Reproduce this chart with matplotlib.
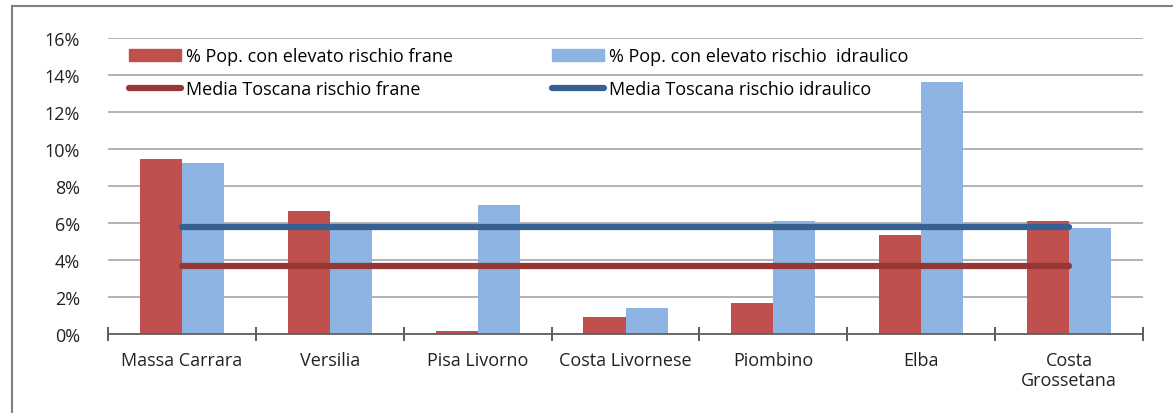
import matplotlib
matplotlib.use("Agg")
import matplotlib.pyplot as plt
import numpy as np
from matplotlib.patches import Patch
from matplotlib.lines import Line2D
from matplotlib.ticker import FuncFormatter, MultipleLocator, FixedLocator

categories = ["Massa Carrara", "Versilia", "Pisa Livorno", "Costa Livornese",
              "Piombino", "Elba", "Costa\nGrossetana"]
frane = [9.45, 6.63, 0.16, 0.94, 1.69, 5.33, 6.10]
idraulico = [9.26, 5.90, 6.95, 1.39, 6.12, 13.6, 5.73]
media_frane = 3.68
media_idraulico = 5.80

lab_frane = "% Pop. con elevato rischio frane"
lab_idr = "% Pop. con elevato rischio  idraulico"
lab_mf = "Media Toscana rischio frane"
lab_mi = "Media Toscana rischio idraulico"

c_red = "#C0504D"
c_blue = "#8EB4E3"
c_lred = "#953735"
c_lblue = "#376092"

FS = 13
plt.rcParams['font.family'] = ['Open Sans', 'DejaVu Sans']
fig = plt.figure(figsize=(11.73, 4.14), dpi=100)
ax = fig.add_axes([108/1173, 1-335/414, (1143-108)/1173, (335-39)/414])

x = np.arange(len(categories))
w = 0.285
ax.bar(x - w/2, frane, width=w, color=c_red, zorder=2)
ax.bar(x + w/2, idraulico, width=w, color=c_blue, zorder=2)
ax.plot([x[0], x[-1]], [media_frane, media_frane], color=c_lred, lw=4.5,
        solid_capstyle='round', zorder=3)
ax.plot([x[0], x[-1]], [media_idraulico, media_idraulico], color=c_lblue, lw=4.5,
        solid_capstyle='round', zorder=3)

ax.set_xlim(-0.5, len(categories) - 0.5)
ax.set_ylim(0, 16)
ax.yaxis.set_major_locator(MultipleLocator(2))
ax.yaxis.set_major_formatter(FuncFormatter(lambda v, p: f"{int(v)}%"))
ax.grid(axis='y', color='#A6A6A6', lw=1.2, zorder=0)
ax.set_axisbelow(True)
for s in ['top', 'right', 'left']:
    ax.spines[s].set_visible(False)
ax.spines['bottom'].set_color('#606060')
ax.spines['bottom'].set_linewidth(1.3)
ax.spines['bottom'].set_zorder(4)

ax.set_xticks(x)
ax.set_xticklabels(categories, fontsize=FS, color='#222222', linespacing=1.15)
ax.tick_params(axis='x', length=0, pad=12)
ax.xaxis.set_minor_locator(FixedLocator(np.arange(-0.5, len(categories), 1.0)))
ax.tick_params(axis='x', which='minor', length=10, direction='inout', color='#404040', width=1.2)
ax.tick_params(axis='y', length=0, pad=20, labelsize=FS, labelcolor='#222222')

handles = [Patch(color=c_red), Line2D([], [], color=c_lred, lw=4.5, solid_capstyle='round'),
           Patch(color=c_blue), Line2D([], [], color=c_lblue, lw=4.5, solid_capstyle='round')]
labels = [lab_frane, lab_mf, lab_idr, lab_mi]
leg = ax.legend(handles, labels, ncol=2, loc='upper left', bbox_to_anchor=(0.008, 1.011),
                frameon=False, fontsize=FS, handlelength=2.9, handletextpad=0.28,
                columnspacing=5.45, labelspacing=0.8, borderaxespad=0.3)

# figure frame lines
fig.add_artist(Line2D([12/1173, 1.0], [1-7/414, 1-7/414], color='#808080', lw=1.5,
                      transform=fig.transFigure))
fig.add_artist(Line2D([12/1173, 12/1173], [0, 1-7/414], color='#808080', lw=1.5,
                      transform=fig.transFigure))

fig.savefig("out.png", dpi=100)
